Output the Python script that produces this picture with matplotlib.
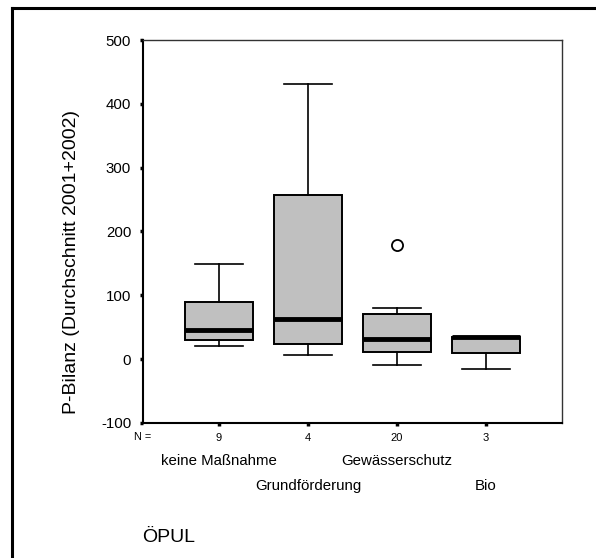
import matplotlib.pyplot as plt
from matplotlib.lines import Line2D
import matplotlib.transforms as mtransforms

plt.rcParams['font.family'] = ['Liberation Sans', 'DejaVu Sans']

# data
categories = ["keine Maßnahme", "Grundförderung", "Gewässerschutz", "Bio"]
counts = [9, 4, 20, 3]
whislo = [20, 7, -9, -15]
q1 = [30, 24, 11, 10]
med = [45, 63, 32, 34]
q3 = [90, 257, 71, 35]
whishi = [149, 431, 80, 35]
fliers = [[], [], [179], []]
yticks = [-100, 0, 100, 200, 300, 400, 500]

stats = []
for i in range(len(categories)):
    stats.append(dict(label=categories[i], whislo=whislo[i], q1=q1[i], med=med[i],
                      q3=q3[i], whishi=whishi[i], fliers=fliers[i]))

W, H = 596, 558
fig = plt.figure(figsize=(W / 100, H / 100), dpi=100)
ax = fig.add_axes([143 / W, 1 - 423 / H, (562 - 143) / W, (423 - 40) / H])

pos = [1, 2, 3, 4]
ax.bxp(stats, positions=pos, widths=0.77, patch_artist=True, showfliers=True,
       boxprops=dict(facecolor="#c0c0c0", edgecolor="black", linewidth=1.4),
       medianprops=dict(color="black", linewidth=3.5),
       whiskerprops=dict(color="black", linewidth=1.2),
       capprops=dict(color="black", linewidth=1.2),
       capwidths=0.55,
       flierprops=dict(marker="o", markerfacecolor="white", markeredgecolor="black",
                       markersize=8, markeredgewidth=1.3))

ax.set_xlim(0.146, 4.854)
ax.set_ylim(-100, 500)
ax.set_yticks(yticks)
ax.set_yticklabels([str(v) for v in yticks], fontsize=10.8)
ax.set_xticks(pos)
ax.set_xticklabels([str(c) for c in counts], fontsize=8)
ax.tick_params(axis="both", direction="out", length=2.5, width=2.5, color="black")
ax.tick_params(axis="y", pad=6)
ax.tick_params(axis="x", pad=5)

for s in ["left", "bottom"]:
    ax.spines[s].set_linewidth(1.5)
for s in ["top", "right"]:
    ax.spines[s].set_linewidth(1.0)
    ax.spines[s].set_color("#333333")

ax.set_ylabel("P-Bilanz (Durchschnitt 2001+2002)", fontsize=14)
ax.yaxis.set_label_coords(-0.150, 0.42)

ax.text(-0.002, -0.0366, "N =", transform=ax.transAxes, fontsize=7.8,
        ha="center", va="center")

trans = mtransforms.blended_transform_factory(ax.transData, ax.transAxes)
for i, c in enumerate(categories):
    y = -0.099 if i % 2 == 0 else -0.164
    ax.text(pos[i], y, c, transform=trans, fontsize=10.8, ha="center", va="center")

ax.text(-0.002, -0.298, "ÖPUL", transform=ax.transAxes, fontsize=14,
        ha="left", va="center")

# outer frame (left and top only, as cropped)
fig.add_artist(Line2D([12 / W, 12 / W], [0, 1 - 8 / H], transform=fig.transFigure,
                      color="black", linewidth=2.2))
fig.add_artist(Line2D([12 / W, 1], [1 - 8 / H, 1 - 8 / H], transform=fig.transFigure,
                      color="black", linewidth=2.2))

fig.savefig("out.png", dpi=100)
